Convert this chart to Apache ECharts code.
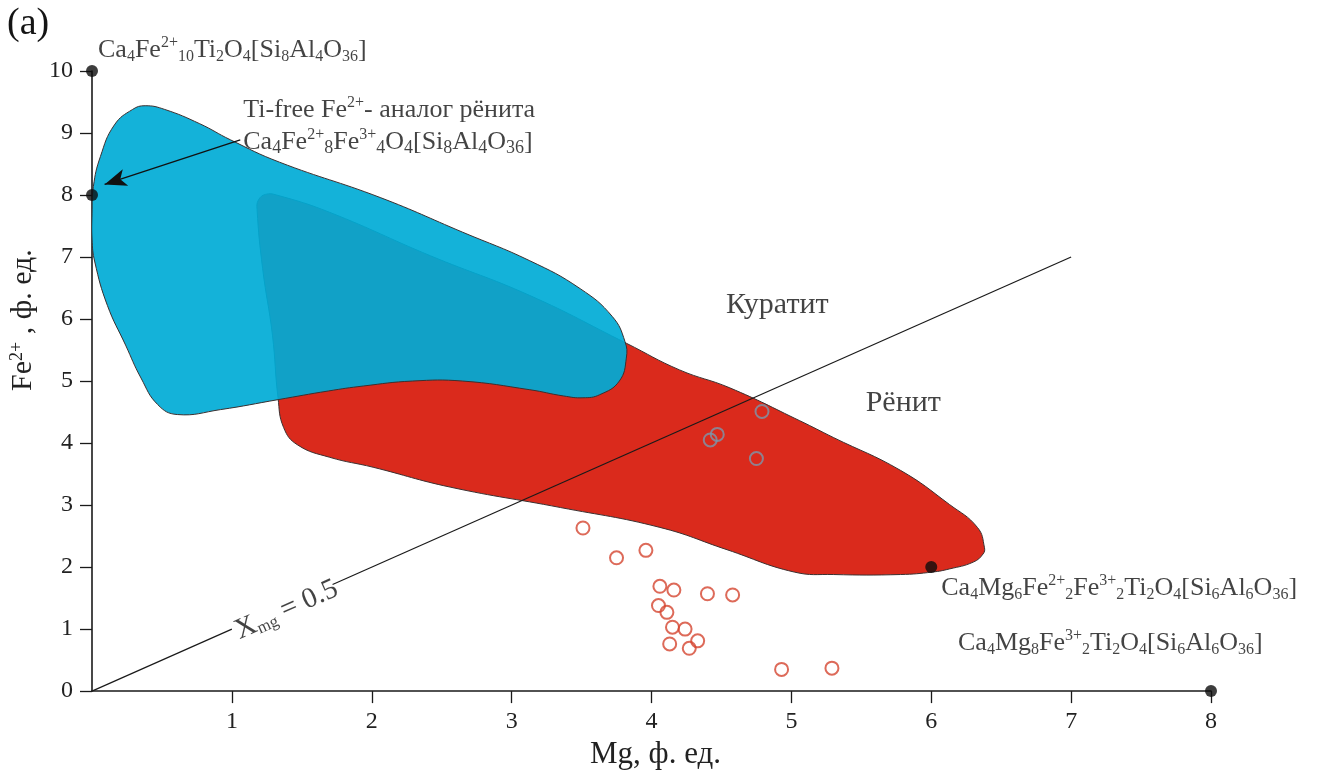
<!DOCTYPE html>
<html>
<head>
<meta charset="utf-8">
<script src="https://cdn.jsdelivr.net/npm/echarts@6/dist/echarts.min.js"></script>
<style>
  html, body { margin: 0; padding: 0; background: #ffffff; }
  #chart { width: 1323px; height: 775px; }
</style>
</head>
<body>
<div id="chart"></div>
<script>
// Outline of the Fe2+-rich (Ti-free) field, Mg vs Fe2+ (formula units)
const blueFieldMg = [0.00, 0.01, 0.06, 0.16, 0.29, 0.38, 0.52, 0.77, 0.99, 1.34, 2.06, 2.65, 3.13, 3.49, 3.72, 3.81, 3.82, 3.77, 3.63, 3.51, 3.37, 3.13, 2.65, 2.29, 1.94, 1.69, 1.33, 0.92, 0.61, 0.47, 0.35, 0.24, 0.11, 0.02, 0.00];
const blueFieldFe = [7.70, 8.14, 8.62, 9.13, 9.38, 9.44, 9.38, 9.15, 8.89, 8.53, 7.96, 7.40, 6.94, 6.49, 6.04, 5.64, 5.37, 5.00, 4.78, 4.73, 4.76, 4.86, 5.00, 5.00, 4.92, 4.84, 4.70, 4.54, 4.46, 4.62, 5.05, 5.58, 6.22, 6.92, 7.29];

// Outline of the rhönite field
const redFieldMg = [1.19, 1.24, 1.32, 1.70, 2.42, 3.13, 3.82, 4.20, 4.56, 5.06, 5.30, 5.78, 6.13, 6.33, 6.38, 6.37, 6.30, 6.13, 6.01, 5.78, 5.30, 5.02, 4.54, 4.06, 3.35, 2.56, 2.01, 1.70, 1.47, 1.37, 1.33, 1.29, 1.22, 1.18];
const redFieldFe = [7.92, 8.01, 8.00, 7.72, 7.02, 6.38, 5.61, 5.18, 4.89, 4.36, 4.09, 3.56, 3.01, 2.64, 2.32, 2.21, 2.08, 1.97, 1.92, 1.88, 1.88, 1.92, 2.28, 2.64, 2.96, 3.29, 3.61, 3.77, 3.97, 4.25, 4.73, 5.74, 6.81, 7.77];

// End-member compositions (Mg, Fe2+)
const endMemberMg = [0, 0, 6, 8];
const endMemberFe = [10, 8, 2, 0];

// Analysed samples outside the field
const samplesMg = [3.51, 3.75, 3.96, 4.06, 4.16, 4.40, 4.58, 4.05, 4.11, 4.15, 4.24, 4.33, 4.13, 4.27, 4.93, 5.29];
const samplesFe = [2.63, 2.15, 2.27, 1.69, 1.63, 1.57, 1.55, 1.38, 1.27, 1.03, 1.00, 0.81, 0.76, 0.69, 0.35, 0.37];

// Analysed samples inside the rhönite field
const fieldSamplesMg = [4.79, 4.47, 4.42, 4.75];
const fieldSamplesFe = [4.51, 4.14, 4.05, 3.75];

// Xmg = 0.5 line (Fe2+ = Mg), interrupted where its label sits
const xmgLineEnds = [0, 7];
const xmgGap = [1.0, 1.72];
const xmgLabelAt = [1.39, 1.31];

// Arrow from the Ti-free analogue caption to its composition
const arrowFrom = [1.06, 8.89];
const arrowTo = [0.09, 8.17];

// Field names (placed at their centre)
const fieldNames = ['Куратит', 'Рёнит'];
const fieldNameMg = [4.90, 5.80];
const fieldNameFe = [6.22, 4.65];

const xTicks = [1, 2, 3, 4, 5, 6, 7, 8];

const SERIF = '"Liberation Serif", "Times New Roman", serif';
const INK = '#141414';

const zip = (a, b) => a.map((v, i) => [v, b[i]]);

// rich-text styles for chemical formulae: sup = charge, sub = lowered index,
// sb = small index sitting on the baseline
const fRich = {
  m:   { fontFamily: SERIF, fontSize: 26, color: INK, lineHeight: 30 },
  sup: { fontFamily: SERIF, fontSize: 16, color: INK, lineHeight: 15, verticalAlign: 'top' },
  sub: { fontFamily: SERIF, fontSize: 16, color: INK, lineHeight: 16, verticalAlign: 'bottom' },
  sb:  { fontFamily: SERIF, fontSize: 18, color: INK, lineHeight: 24, verticalAlign: 'bottom' }
};

function polygonSeries(mg, fe, fill, z) {
  const pts = zip(mg, fe);
  return {
    type: 'custom',
    coordinateSystem: 'cartesian2d',
    silent: true,
    clip: true,
    z: z,
    data: pts,
    encode: { x: 0, y: 1 },
    renderItem: function (params, api) {
      if (params.dataIndex !== 0) return null;
      const coords = pts.map(p => api.coord(p));
      return {
        type: 'polygon',
        shape: { points: coords, smooth: 0.45 },
        style: { fill: fill, stroke: '#3b3030', lineWidth: 1 }
      };
    }
  };
}

const chart = echarts.init(document.getElementById('chart'), null, { renderer: 'canvas' });

const option = {
  animation: false,
  backgroundColor: '#ffffff',
  grid: { left: 92, right: 112, top: 71, bottom: 80, containLabel: false },
  graphic: [
    { type: 'text', left: 7, top: 5, style: { text: '(a)', font: '38px ' + SERIF, fill: INK } }
  ],
  xAxis: {
    type: 'value', min: 0, max: 8, interval: 1,
    name: 'Mg, ф. ед.',
    nameLocation: 'middle',
    nameGap: 47,
    nameTextStyle: { fontFamily: SERIF, fontSize: 31, color: '#222', padding: [0, 0, 0, 8] },
    axisLine: { lineStyle: { color: '#1a1a1a', width: 1.6 } },
    axisTick: { show: true, length: 12, lineStyle: { color: '#1a1a1a', width: 1.3 } },
    axisLabel: {
      fontFamily: SERIF, fontSize: 24, color: '#222', margin: 19,
      showMinLabel: false,
      formatter: v => (xTicks.indexOf(v) >= 0 ? String(v) : '')
    },
    splitLine: { show: false }
  },
  yAxis: {
    type: 'value', min: 0, max: 10, interval: 1,
    name: 'Fe{sup|2+} , ф. ед.',
    nameLocation: 'middle',
    nameRotate: 90,
    nameGap: 48,
    nameTextStyle: {
      fontFamily: SERIF, fontSize: 30, color: '#222',
      padding: [0, 0, 0, 122],
      rich: {
        sup: { fontFamily: SERIF, fontSize: 18, color: '#222', verticalAlign: 'top', lineHeight: 18 }
      }
    },
    axisLine: { lineStyle: { color: '#1a1a1a', width: 1.6 } },
    axisTick: { show: true, length: 12, lineStyle: { color: '#1a1a1a', width: 1.3 } },
    axisLabel: { fontFamily: SERIF, fontSize: 24, color: '#222', margin: 19 },
    splitLine: { show: false }
  },
  series: [
    polygonSeries(redFieldMg, redFieldFe, '#da2a1c', 1),
    polygonSeries(blueFieldMg, blueFieldFe, 'rgba(0, 171, 214, 0.92)', 2),
    {
      type: 'line', silent: true, z: 3, symbol: 'none',
      lineStyle: { color: '#1a1a1a', width: 1.2 },
      data: [[xmgLineEnds[0], xmgLineEnds[0]], [xmgGap[0], xmgGap[0]]]
    },
    {
      type: 'line', silent: true, z: 3, symbol: 'none',
      lineStyle: { color: '#1a1a1a', width: 1.2 },
      data: [[xmgGap[1], xmgGap[1]], [xmgLineEnds[1], xmgLineEnds[1]]],
      markLine: {
        silent: true,
        symbol: ['none', 'arrow'],
        symbolSize: [13, 22],
        label: { show: false },
        lineStyle: { color: '#111', width: 1.3, type: 'solid' },
        data: [[{ coord: arrowFrom }, { coord: arrowTo }]]
      }
    },
    {
      // Xmg label along the line
      type: 'scatter', silent: true, z: 5, symbolSize: 0,
      data: [xmgLabelAt],
      label: {
        show: true, position: 'inside', rotate: 24,
        formatter: '{x|X}{sub|mg}{m| = 0.5}',
        rich: {
          x:   { fontFamily: SERIF, fontSize: 29, color: INK, lineHeight: 30 },
          m:   { fontFamily: SERIF, fontSize: 29, color: INK, lineHeight: 30 },
          sub: { fontFamily: SERIF, fontSize: 17, color: INK, lineHeight: 16, verticalAlign: 'bottom' }
        }
      }
    },
    {
      // field names
      type: 'scatter', silent: true, z: 5, symbolSize: 0,
      data: fieldNames.map((n, i) => ({ name: n, value: [fieldNameMg[i], fieldNameFe[i]] })),
      label: {
        show: true, position: 'inside', formatter: '{b}',
        fontFamily: SERIF, fontSize: 30, color: INK
      }
    },
    {
      // caption of the Ti-free analogue, written at the start of the arrow
      type: 'scatter', silent: true, z: 5, symbolSize: 0,
      data: [
        { value: arrowFrom, label: { position: [3, -45],
          formatter: '{m|Ti-free Fe}{sup|2+}{m|- аналог рёнита}' } },
        { value: arrowFrom, label: { position: [3, -13],
          formatter: '{m|Ca}{sb|4}{m|Fe}{sup|2+}{sb|8}{m|Fe}{sup|3+}{sb|4}{m|O}{sb|4}{m|[Si}{sb|8}{m|Al}{sb|4}{m|O}{sb|36}{m|]}' } }
      ],
      label: { show: true, align: 'left', verticalAlign: 'top', rich: fRich }
    },
    {
      type: 'scatter', z: 6, silent: true,
      symbol: 'circle', symbolSize: 13,
      itemStyle: { color: 'rgba(0,0,0,0)', borderColor: '#d5452f', borderWidth: 2 },
      data: zip(samplesMg, samplesFe)
    },
    {
      type: 'scatter', z: 6, silent: true,
      symbol: 'circle', symbolSize: 13,
      itemStyle: { color: 'rgba(0,0,0,0)', borderColor: '#7a97ad', borderWidth: 2 },
      data: zip(fieldSamplesMg, fieldSamplesFe)
    },
    {
      type: 'scatter', z: 7, silent: true,
      symbol: 'circle', symbolSize: 12,
      itemStyle: { color: '#0d0d0d' },
      label: { show: true, align: 'left', verticalAlign: 'top', rich: fRich },
      data: [
        {
          value: [endMemberMg[0], endMemberFe[0]],
          label: {
            position: [12, -30],
            formatter: '{m|Ca}{sub|4}{m|Fe}{sup|2+}{sub|10}{m|Ti}{sub|2}{m|O}{sub|4}{m|[Si}{sub|8}{m|Al}{sub|4}{m|O}{sub|36}{m|]}'
          }
        },
        {
          value: [endMemberMg[1], endMemberFe[1]],
          label: { show: false }
        },
        {
          value: [endMemberMg[2], endMemberFe[2]],
          label: {
            position: [16, 12],
            formatter: '{m|Ca}{sub|4}{m|Mg}{sub|6}{m|Fe}{sup|2+}{sub|2}{m|Fe}{sup|3+}{sub|2}{m|Ti}{sub|2}{m|O}{sub|4}{m|[Si}{sub|6}{m|Al}{sub|6}{m|O}{sub|36}{m|]}'
          }
        },
        {
          value: [endMemberMg[3], endMemberFe[3]],
          label: {
            position: [-247, -57],
            formatter: '{m|Ca}{sub|4}{m|Mg}{sub|8}{m|Fe}{sup|3+}{sub|2}{m|Ti}{sub|2}{m|O}{sub|4}{m|[Si}{sub|6}{m|Al}{sub|6}{m|O}{sub|36}{m|]}'
          }
        }
      ]
    }
  ]
};

chart.setOption(option);
</script>
</body>
</html>
